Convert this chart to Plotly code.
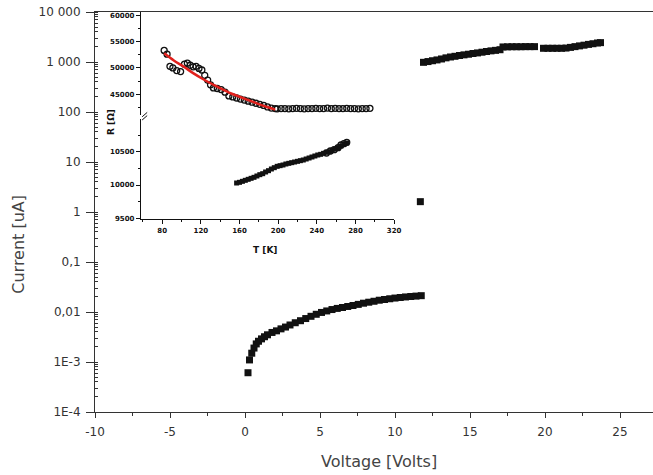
import plotly.graph_objects as go

# ---------------- main I-V data ----------------
low_v = [0.2, 0.3, 0.45, 0.6, 0.75, 0.9, 1.1, 1.3, 1.5, 1.8, 2.1, 2.4, 2.7, 3.0, 3.35, 3.7, 4.05, 4.4,
         4.75, 5.1, 5.45, 5.8, 6.15, 6.5, 6.85, 7.2, 7.55, 7.9, 8.25, 8.6, 8.95, 9.3, 9.65, 10.0,
         10.35, 10.7, 11.05, 11.4, 11.75]
low_i = [0.00061, 0.0011, 0.0015, 0.0019, 0.0023, 0.0026, 0.0029, 0.0032, 0.0035, 0.0039, 0.0042,
         0.0046, 0.0050, 0.0055, 0.0061, 0.0067, 0.0074, 0.0082, 0.0090, 0.0098, 0.0105, 0.0112,
         0.0118, 0.0123, 0.0129, 0.0135, 0.0142, 0.0150, 0.0157, 0.0164, 0.0172, 0.0178, 0.0184,
         0.0190, 0.0195, 0.0200, 0.0204, 0.0208, 0.0212]

mid_v = [11.69]
mid_i = [1.61]

high_v = [11.9, 12.2, 12.5, 12.8, 13.1, 13.4, 13.7, 14.0, 14.3, 14.6, 14.9, 15.2, 15.5, 15.8, 16.1,
          16.4, 16.7, 17.0, 17.2, 17.5, 17.8, 18.1, 18.4, 18.7, 19.0, 19.3, 19.9, 20.2, 20.5, 20.8,
          21.1, 21.4, 21.7, 22.0, 22.3, 22.6, 22.9, 23.2, 23.5, 23.7]
high_i = [985, 1020, 1060, 1100, 1150, 1210, 1260, 1300, 1350, 1390, 1430, 1480, 1520, 1570, 1620,
          1670, 1710, 1760, 2000, 2010, 2020, 2020, 2020, 2030, 2030, 2030, 1880, 1880, 1880, 1880,
          1880, 1900, 1960, 2030, 2100, 2170, 2250, 2320, 2400, 2440]

y_tickvals = [1e-4, 1e-3, 1e-2, 1e-1, 1, 10, 100, 1000, 10000]
y_ticktext = ["1E-4", "1E-3", "0,01", "0,1", "1", "10", "100", "1 000", "10 000"]
x_tickvals = [-10, -5, 0, 5, 10, 15, 20, 25]
x_ticktext = ["-10", "-5", "0", "5", "10", "15", "20", "25"]

# ---------------- inset R(T) data ----------------
up_t = [82, 85, 88, 91, 95, 99, 103, 106, 109, 112, 115, 118, 121, 124, 127, 130, 133, 137, 141,
        145, 149, 153, 157, 161, 165, 169, 173, 177, 181, 185, 189, 193, 197,
        199, 203, 207, 211, 215, 219, 223, 227, 231, 235, 239, 243, 247, 251, 255, 259, 263, 267,
        271, 275, 279, 283, 287, 291, 295]
up_r = [53300, 52600, 50300, 50000, 49500, 49300, 50700, 50900, 50500, 50200, 50300, 49900, 49600,
        48600, 47700, 46800, 46200, 46100, 45900, 45400, 44700, 44500, 44300, 44100, 43900, 43700,
        43500, 43300, 43100, 42900, 42600, 42400, 42300,
        42250, 42300, 42300, 42250, 42300, 42350, 42300, 42250, 42300, 42300, 42350, 42300, 42300,
        42400, 42300, 42350, 42300, 42300, 42350, 42300, 42300, 42250, 42300, 42300, 42350]

fit_t = [82, 92, 102, 112, 122, 132, 142, 152, 162, 172, 182, 192, 197]
fit_r = [52760, 51400, 50250, 49000, 47900, 46900, 46000, 45100, 44400, 43700, 43000, 42400, 42100]

lo_t = [157, 160, 163, 166, 169, 172, 175, 178, 181, 184, 187, 190, 193, 196, 199, 202, 205, 208,
        211, 214, 217, 220, 223, 226, 229, 232, 235, 238, 241, 244, 247, 250, 253, 256, 259, 262,
        265, 268, 271]
lo_r = [10030, 10040, 10055, 10070, 10085, 10100, 10115, 10135, 10155, 10170, 10195, 10215, 10240,
        10260, 10280, 10290, 10300, 10315, 10325, 10335, 10345, 10355, 10365, 10375, 10390, 10405,
        10420, 10435, 10450, 10460, 10475, 10490, 10500, 10520, 10540, 10560, 10585, 10610, 10630]

lo_open_t = [250, 254, 258, 262, 265, 268, 271]
lo_open_r = [10480, 10510, 10530, 10560, 10600, 10620, 10640]

inset_x_ticks = [80, 120, 160, 200, 240, 280, 320]
inset_up_ticks = [45000, 50000, 55000, 60000]
inset_up_text = ["45000", "50000", "55000", "60000"]
inset_lo_ticks = [9500, 10000, 10500]
inset_lo_text = ["9500", "10000", "10500"]

fig = go.Figure()

sq = dict(symbol="square", size=7, color="#111111")
fig.add_trace(go.Scatter(x=low_v, y=low_i, mode="markers", marker=sq, xaxis="x", yaxis="y"))
fig.add_trace(go.Scatter(x=mid_v, y=mid_i, mode="markers", marker=sq, xaxis="x", yaxis="y"))
fig.add_trace(go.Scatter(x=high_v, y=high_i, mode="markers", marker=sq, xaxis="x", yaxis="y"))

# inset traces
fig.add_trace(go.Scatter(x=up_t, y=up_r, mode="markers", xaxis="x2", yaxis="y3",
                         marker=dict(symbol="circle-open", size=6, color="#111111",
                                     line=dict(width=1.3, color="#111111"))))
fig.add_trace(go.Scatter(x=fit_t, y=fit_r, mode="lines", xaxis="x2", yaxis="y3",
                         line=dict(color="#e0201c", width=2.5, shape="spline")))
fig.add_trace(go.Scatter(x=lo_t, y=lo_r, mode="markers", xaxis="x2", yaxis="y4",
                         marker=dict(symbol="square", size=5, color="#111111")))
fig.add_trace(go.Scatter(x=lo_open_t, y=lo_open_r, mode="markers", xaxis="x2", yaxis="y4",
                         marker=dict(symbol="circle-open", size=6, color="#111111",
                                     line=dict(width=1.3, color="#111111"))))

tickfont_main = dict(family="DejaVu Sans, sans-serif", size=12, color="#333333")
tickfont_inset = dict(family="DejaVu Sans, sans-serif", size=7, color="#111111", weight="bold")
title_font = dict(family="DejaVu Sans, sans-serif", size=16, color="#444444")

fig.update_layout(
    width=653, height=475,
    margin=dict(l=95, r=0, t=12, b=63, autoexpand=False),
    paper_bgcolor="white", plot_bgcolor="rgba(0,0,0,0)",
    showlegend=False,
    xaxis=dict(domain=[0, 1], range=[-10, 27.2], tickvals=x_tickvals, ticktext=x_ticktext,
               ticks="outside", ticklen=5, ticklabelstandoff=4, automargin=False,
               tickcolor="#333", showline=True, linecolor="#333", linewidth=1, mirror=True,
               showgrid=False, zeroline=False, tickfont=tickfont_main,
               minor=dict(tickvals=[-7.5, -2.5, 2.5, 7.5, 12.5, 17.5, 22.5], ticks="outside",
                          ticklen=3, tickcolor="#333")),
    yaxis=dict(type="log", range=[-4, 4], tickvals=y_tickvals, ticktext=y_ticktext, automargin=False,
               ticks="outside", ticklen=8, ticklabelstandoff=3, tickcolor="#333", showline=True,
               linecolor="#333", linewidth=1, showgrid=False, zeroline=False, tickfont=tickfont_main,
               minor=dict(ticks="inside", ticklen=3, tickcolor="#333", dtick="D1", showgrid=False)),
    xaxis2=dict(domain=[0.0824, 0.536], anchor="y4", range=[58, 320], tickvals=inset_x_ticks,
                ticks="outside", ticklen=4, tickcolor="#111", showline=True, linecolor="#111",
                linewidth=1.2, showgrid=False, zeroline=False, tickfont=tickfont_inset,
                automargin=False,
                minor=dict(dtick=20, tick0=0, ticks="outside", ticklen=2, tickcolor="#111")),
    yaxis3=dict(domain=[0.7425, 1.0], anchor="x2", range=[41080, 60580], tickvals=inset_up_ticks,
                ticktext=inset_up_text, automargin=False,
                ticks="outside", ticklen=4, tickcolor="#111", showline=True, linecolor="#111",
                linewidth=1.2, showgrid=False, zeroline=False, tickfont=tickfont_inset,
                minor=dict(dtick=2500, tick0=0, ticks="outside", ticklen=2, tickcolor="#111")),
    yaxis4=dict(domain=[0.4825, 0.7325], anchor="x2", range=[9490, 10990], tickvals=inset_lo_ticks,
                ticktext=inset_lo_text, automargin=False,
                ticks="outside", ticklen=4, tickcolor="#111", showline=True, linecolor="#111",
                linewidth=1.2, showgrid=False, zeroline=False, tickfont=tickfont_inset,
                minor=dict(dtick=250, tick0=0, ticks="outside", ticklen=2, tickcolor="#111")),
)

fig.add_annotation(text="Voltage [Volts]", xref="paper", yref="paper", x=0.509, y=-0.1225,
                   xanchor="center", yanchor="middle", showarrow=False, font=title_font)
fig.add_annotation(text="Current [uA]", xref="paper", yref="paper", x=-0.1385, y=0.42,
                   xanchor="center", yanchor="middle", textangle=-90, showarrow=False,
                   font=title_font)
fig.add_annotation(text="T [K]", xref="paper", yref="paper", x=0.3047, y=0.405,
                   xanchor="center", yanchor="middle", showarrow=False,
                   font=dict(family="DejaVu Sans, sans-serif", size=9, color="#111111", weight="bold"))
fig.add_annotation(text="R [Ω]", xref="paper", yref="paper", x=0.0287, y=0.725, textangle=-90,
                   xanchor="center", yanchor="middle", showarrow=False,
                   font=dict(family="DejaVu Sans, sans-serif", size=9, color="#111111", weight="bold"))

# axis break marks on inset y axis
for dy in (0.0, 0.008):
    fig.add_shape(type="line", xref="paper", yref="paper",
                  x0=0.0845, y0=0.730 + dy, x1=0.0935, y1=0.741 + dy,
                  line=dict(color="#111", width=1))

fig.write_html("out.html", config={"displayModeBar": False},
               post_script="document.body.style.margin='0';document.body.style.overflow='hidden';")
